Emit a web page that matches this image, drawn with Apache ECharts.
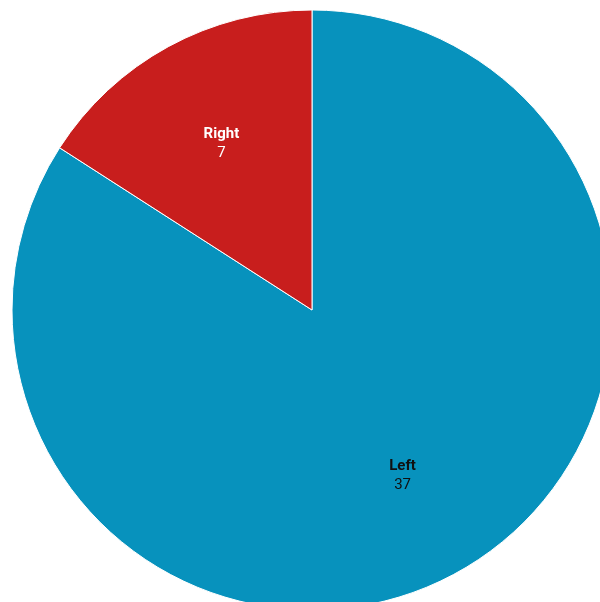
<!DOCTYPE html>
<html><head><meta charset="utf-8">
<script src="https://cdn.jsdelivr.net/npm/echarts@6/dist/echarts.min.js"></script>
<style>html,body{margin:0;padding:0;background:#fff}#c{width:600px;height:602px}</style>
</head><body><div id="c"></div>
<script>
const categories = ['Left', 'Right'];
const values = [37, 7];
const colors = ['#0792bd', '#c81e1d'];
const labelColors = ['#111111', '#ffffff'];

const data = categories.map((c, i) => ({
  name: c, value: values[i],
  itemStyle: { color: colors[i] },
  label: { color: labelColors[i] }
}));
const labelData = categories.map((c, i) => ({
  name: c, value: values[i],
  itemStyle: { color: 'transparent' },
  label: { color: labelColors[i] }
}));

const chart = echarts.init(document.getElementById('c'));
chart.setOption({
  animation: false,
  series: [{
    type: 'pie',
    center: [312, 310],
    radius: [0, 300],
    startAngle: 90,
    clockwise: true,
    data: data,
    itemStyle: { borderColor: '#ffffff', borderWidth: 1 },
    label: { show: false },
    labelLine: { show: false },
    silent: true
  }, {
    type: 'pie',
    center: [312, 310],
    radius: [72, 300],
    startAngle: 90,
    clockwise: true,
    data: labelData,
    silent: true,
    labelLine: { show: false },
    label: {
      show: true,
      position: 'inside',
      fontFamily: 'Roboto',
      formatter: '{b|{b}}\n{c}',
      fontSize: 15,
      lineHeight: 19,
      align: 'center',
      rich: { b: { fontWeight: 'bold', fontSize: 15, lineHeight: 19, fontFamily: 'Roboto' } }
    }
  }]
});
</script></body></html>
